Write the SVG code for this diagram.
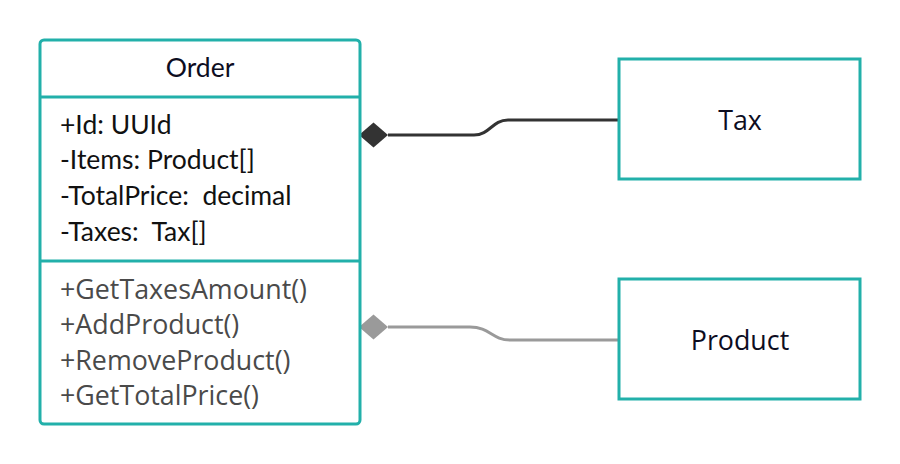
<svg xmlns="http://www.w3.org/2000/svg" width="900" height="464" viewBox="0 0 900 464">
<style>
.box{fill:#fff;stroke:#22b0aa;stroke-width:3}
.div{stroke:#22b0aa;stroke-width:3}
.t{font-family:Lato,"Liberation Sans",sans-serif;font-size:26.5px}
.o{font-family:"Open Sans","Noto Sans",sans-serif;font-size:26.8px}
.attr{fill:#111}
.meth{fill:#4a4a4a}
.name{fill:#0d0d1f;text-anchor:middle}
</style>
<rect width="900" height="464" fill="#fff"/>
<g id="connectors">
<path d="M388 135 L474 135 C490 135 492 120 508 120 L618 120" fill="none" stroke="#333" stroke-width="3"/>
<polygon points="359,135 373.5,122.5 388,135 373.5,147.5" fill="#333"/>
<path d="M388 327 L470 327 C490 327 492 340 510 340 L618 340" fill="none" stroke="#9a9a9a" stroke-width="3"/>
<polygon points="359,327 373.5,314.5 388,327 373.5,339.5" fill="#9a9a9a"/>
</g>
<g id="order">
<rect class="box" x="40" y="40" width="320" height="384" rx="4"/>
<line class="div" x1="40" y1="97" x2="360" y2="97"/>
<line class="div" x1="40" y1="261" x2="360" y2="261"/>
<text class="t name" x="200" y="77">Order</text>
<text class="t attr" x="60" y="134">+Id: UUId</text>
<text class="t attr" x="60" y="169">-Items: Product[]</text>
<text class="t attr" x="60" y="205" xml:space="preserve">-TotalPrice:  decimal</text>
<text class="t attr" x="60" y="241" xml:space="preserve">-Taxes:  Tax[]</text>
<text class="o meth" x="60" y="299">+GetTaxesAmount()</text>
<text class="o meth" x="60" y="334">+AddProduct()</text>
<text class="o meth" x="60" y="370">+RemoveProduct()</text>
<text class="o meth" x="60" y="405">+GetTotalPrice()</text>
</g>
<g id="tax">
<rect class="box" x="619" y="59" width="241" height="120"/>
<text class="o name" x="740" y="130">Tax</text>
</g>
<g id="product">
<rect class="box" x="619" y="279" width="241" height="120"/>
<text class="o name" x="740" y="350">Product</text>
</g>
</svg>
